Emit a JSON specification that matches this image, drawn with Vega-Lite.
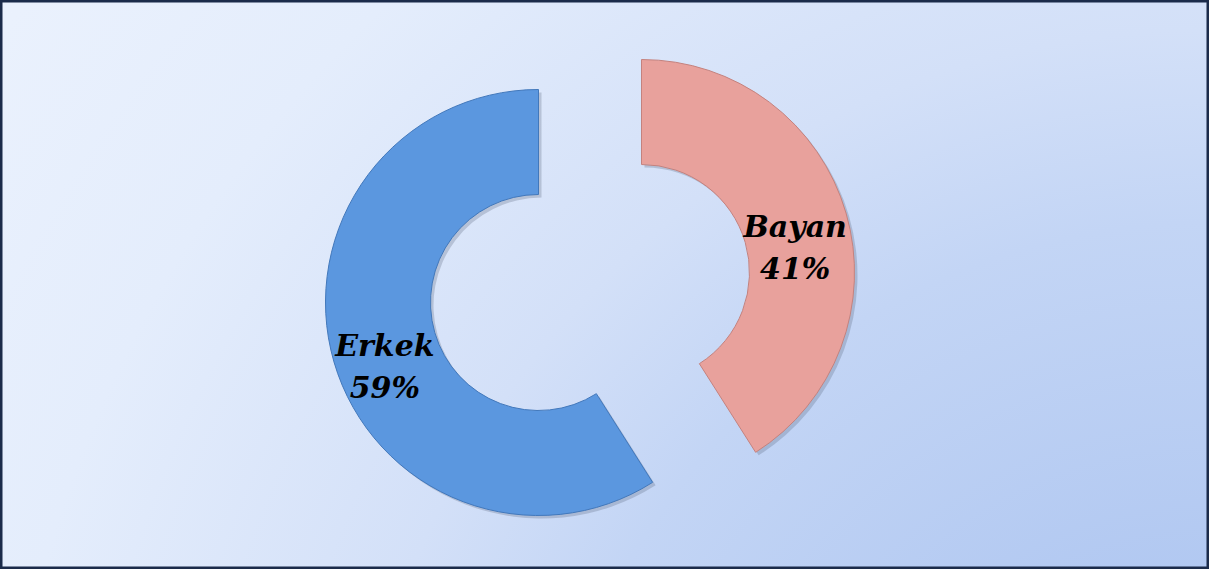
{
  "$schema": "https://vega.github.io/schema/vega-lite/v6.json",
  "width": 1209,
  "height": 569,
  "autosize": {"type": "fit", "contains": "padding"},
  "padding": 0,
  "background": "#ffffff",
  "view": {
    "stroke": "#1b2b4a",
    "strokeWidth": 5,
    "fill": {
      "gradient": "radial",
      "x1": 1, "y1": 1, "r1": 0,
      "x2": 1, "y2": 1, "r2": 1.45,
      "stops": [
        {"offset": 0, "color": "#a2bdee"},
        {"offset": 0.38, "color": "#c3d5f5"},
        {"offset": 0.49, "color": "#d3e0f8"},
        {"offset": 0.69, "color": "#e4edfc"},
        {"offset": 1, "color": "#f0f5fe"}
      ]
    }
  },
  "data": {"values": [
    {"cat": "Bayan", "value": 41},
    {"cat": "Erkek", "value": 59}
  ]},
  "transform": [
    {"stack": "value", "groupby": [], "sort": [{"field": "cat", "order": "ascending"}], "as": ["t0", "t1"]},
    {"calculate": "(datum.t0 + datum.t1) / 2", "as": "mid"},
    {"calculate": "datum.cat + '\\n' + datum.value + '%'", "as": "label"}
  ],
  "layer": [
    {
      "transform": [{"filter": "datum.cat == 'Bayan'"}],
      "mark": {"type": "arc", "radius": 213, "radius2": 108, "xOffset": 40, "yOffset": -9, "fill": "#4a5870", "opacity": 0.25},
      "encoding": {
        "theta": {"field": "t0", "type": "quantitative", "scale": {"domain": [0, 100]}},
        "theta2": {"field": "t1"}
      }
    },
    {
      "transform": [{"filter": "datum.cat == 'Erkek'"}],
      "mark": {"type": "arc", "radius": 213, "radius2": 108, "xOffset": -63, "yOffset": 21, "fill": "#4a5870", "opacity": 0.25},
      "encoding": {
        "theta": {"field": "t0", "type": "quantitative", "scale": {"domain": [0, 100]}},
        "theta2": {"field": "t1"}
      }
    },
    {
      "transform": [{"filter": "datum.cat == 'Bayan'"}],
      "mark": {"type": "arc", "radius": 213, "radius2": 108, "xOffset": 37, "yOffset": -12, "fill": "#e8a19c", "stroke": "#c4827e", "strokeWidth": 1},
      "encoding": {
        "theta": {"field": "t0", "type": "quantitative", "scale": {"domain": [0, 100]}},
        "theta2": {"field": "t1"}
      }
    },
    {
      "transform": [{"filter": "datum.cat == 'Erkek'"}],
      "mark": {"type": "arc", "radius": 213, "radius2": 108, "xOffset": -66, "yOffset": 18, "fill": "#5b97df", "stroke": "#4278bb", "strokeWidth": 1},
      "encoding": {
        "theta": {"field": "t0", "type": "quantitative", "scale": {"domain": [0, 100]}},
        "theta2": {"field": "t1"}
      }
    },
    {
      "transform": [{"filter": "datum.cat == 'Bayan'"}],
      "mark": {"type": "text", "radius": 160, "xOffset": 37, "yOffset": -12, "font": "DejaVu Serif", "fontStyle": "italic", "fontWeight": "bold", "fontSize": 30, "lineHeight": 42, "lineBreak": "\n", "color": "#000000", "align": "center", "baseline": "middle"},
      "encoding": {
        "theta": {"field": "mid", "type": "quantitative", "scale": {"domain": [0, 100]}},
        "text": {"field": "label"}
      }
    },
    {
      "transform": [{"filter": "datum.cat == 'Erkek'"}],
      "mark": {"type": "text", "radius": 160, "xOffset": -66, "yOffset": 18, "font": "DejaVu Serif", "fontStyle": "italic", "fontWeight": "bold", "fontSize": 30, "lineHeight": 42, "lineBreak": "\n", "color": "#000000", "align": "center", "baseline": "middle"},
      "encoding": {
        "theta": {"field": "mid", "type": "quantitative", "scale": {"domain": [0, 100]}},
        "text": {"field": "label"}
      }
    }
  ]
}
